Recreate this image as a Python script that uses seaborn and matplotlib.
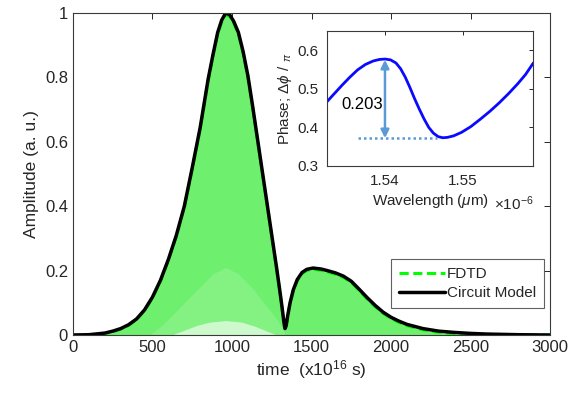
import numpy as np
import pandas as pd
import seaborn as sns
import matplotlib.pyplot as plt
from matplotlib.patches import FancyArrowPatch

# time axis (x10^16 s) and normalised amplitude of the circuit model envelope
time = [0, 100, 200, 250, 300, 350, 400, 450, 500, 550, 600, 650, 700, 750, 800,
        850, 880, 910, 935, 960, 985, 1010, 1040, 1070, 1100, 1130, 1160, 1190,
        1220, 1250, 1280, 1300, 1315, 1325, 1333, 1340, 1350, 1365, 1385, 1410,
        1440, 1470, 1510, 1560, 1600, 1650, 1700, 1750, 1800, 1850, 1900, 1950,
        2000, 2050, 2100, 2200, 2300, 2400, 2500, 2600, 2800, 3000]
circuit_amp = [0.0, 0.001, 0.006, 0.012, 0.02, 0.032, 0.05, 0.078, 0.118, 0.17,
               0.235, 0.31, 0.40, 0.52, 0.645, 0.795, 0.87, 0.94, 0.978, 1.0,
               0.995, 0.975, 0.94, 0.88, 0.805, 0.71, 0.61, 0.51, 0.41, 0.31,
               0.21, 0.14, 0.085, 0.045, 0.02, 0.028, 0.06, 0.10, 0.14, 0.172,
               0.194, 0.204, 0.208, 0.205, 0.2, 0.193, 0.183, 0.167, 0.142, 0.116,
               0.092, 0.071, 0.055, 0.043, 0.033, 0.02, 0.012, 0.008, 0.005, 0.003,
               0.001, 0.0]
# FDTD field: top of the fast oscillation (follows the envelope closely)
fdtd_top = [0.0, 0.0, 0.004, 0.01, 0.018, 0.03, 0.048, 0.076, 0.115, 0.167,
            0.232, 0.306, 0.396, 0.516, 0.64, 0.79, 0.865, 0.935, 0.973, 0.995,
            0.99, 0.97, 0.935, 0.875, 0.8, 0.705, 0.605, 0.505, 0.405, 0.305,
            0.205, 0.135, 0.08, 0.04, 0.016, 0.024, 0.056, 0.096, 0.136, 0.168,
            0.19, 0.2, 0.204, 0.201, 0.196, 0.189, 0.179, 0.163, 0.138, 0.112,
            0.088, 0.067, 0.051, 0.039, 0.029, 0.016, 0.008, 0.004, 0.001, 0.0,
            0.0, 0.0]
# empty gap under the FDTD oscillation and the sparse (dotted) band above it
gap_t = [620, 700, 780, 860, 960, 1060, 1140, 1220, 1280]
gap_hi = [0.0, 0.015, 0.03, 0.04, 0.045, 0.04, 0.028, 0.012, 0.0]
dots_t = [480, 560, 640, 720, 800, 880, 960, 1040, 1120, 1200, 1280, 1330]
dots_hi = [0.0, 0.03, 0.07, 0.11, 0.15, 0.19, 0.21, 0.19, 0.15, 0.1, 0.05, 0.01]

# inset: phase difference vs wavelength (x1e-6 m)
wavelength = [1.5326, 1.5335, 1.5345, 1.5355, 1.5365, 1.5375, 1.5385, 1.5393,
              1.5400, 1.5407, 1.5414, 1.5420, 1.5426, 1.5432, 1.5438, 1.5444,
              1.5450, 1.5456, 1.5462, 1.5468, 1.5474, 1.5480, 1.5488, 1.5498,
              1.5510, 1.5522, 1.5534, 1.5546, 1.5558, 1.5570, 1.5580, 1.5590]
phase = [0.467, 0.487, 0.509, 0.530, 0.549, 0.563, 0.572, 0.576,
         0.577, 0.575, 0.567, 0.552, 0.530, 0.503, 0.474, 0.447,
         0.422, 0.400, 0.385, 0.376, 0.373, 0.374, 0.378, 0.387,
         0.402, 0.421, 0.441, 0.463, 0.487, 0.513, 0.537, 0.567]
phase_max = 0.575
phase_min = 0.372
wl_mark = 1.540

df = pd.DataFrame({'time': time, 'circuit': circuit_amp, 'fdtd': fdtd_top})
df_ph = pd.DataFrame({'wl': wavelength, 'phase': phase})

sns.set_theme(style='white')
plt.rcParams['font.family'] = ['Liberation Sans', 'DejaVu Sans']
plt.rcParams['mathtext.fontset'] = 'custom'
plt.rcParams['mathtext.rm'] = 'Liberation Sans'
plt.rcParams['mathtext.it'] = 'Liberation Sans:italic'
plt.rcParams['xtick.direction'] = 'in'
plt.rcParams['ytick.direction'] = 'in'

dark = '#262626'
fig = plt.figure(figsize=(5.76, 3.96), dpi=100)
ax = fig.add_axes([0.1267, 0.154, 0.8283, 0.813])

# FDTD: dense oscillation rendered as a green fill under the envelope
ax.fill_between(df['time'], 0, df['fdtd'], color='#6ef06e', lw=0)
ax.fill_between(dots_t, 0, dots_hi, color='white', alpha=0.15, lw=0)
ax.fill_between(gap_t, 0, gap_hi, color='white', alpha=0.6, lw=0)
sns.lineplot(data=df, x='time', y='fdtd', ax=ax, color='#00ff00', lw=2.2,
             linestyle=(0, (3, 1.5)), label='FDTD')
sns.lineplot(data=df, x='time', y='circuit', ax=ax, color='black', lw=2.5,
             label='Circuit Model')

ax.set_xlim(0, 3000)
ax.set_ylim(0, 1)
ax.set_xticks(np.arange(0, 3001, 500))
ax.set_yticks([0, 0.2, 0.4, 0.6, 0.8, 1])
ax.set_yticklabels(['0', '0.2', '0.4', '0.6', '0.8', '1'])
ax.tick_params(labelsize=12, colors=dark, length=4, width=0.7, top=True, right=True)
ax.set_xlabel('time  (x10$^{16}$ s)', fontsize=12.5, color=dark, labelpad=2)
ax.set_ylabel('Amplitude (a. u.)', fontsize=12.5, color=dark, labelpad=4)
for s in ax.spines.values():
    s.set_color('#3a3a3a')
    s.set_linewidth(0.8)

leg = ax.legend(loc='lower right', bbox_to_anchor=(0.987, 0.084), fontsize=11,
                frameon=True, fancybox=False, edgecolor='#3a3a3a', handlelength=3.0,
                handletextpad=0.15, borderpad=0.5, labelspacing=0.35, borderaxespad=0)
leg.get_frame().set_linewidth(0.8)

# inset
axi = fig.add_axes([0.568, 0.581, 0.358, 0.341])
sns.lineplot(data=df_ph, x='wl', y='phase', ax=axi, color='#0a0aff', lw=2)
axi.set_xlim(1.5326, 1.5590)
axi.set_ylim(0.3, 0.65)
axi.set_xticks([1.54, 1.55])
axi.set_yticks([0.3, 0.4, 0.5, 0.6])
axi.tick_params(labelsize=11, colors=dark, length=3, width=0.7, top=True, right=True, pad=6)
axi.set_xlabel('Wavelength ($\\mu$m)', fontsize=11, color=dark, labelpad=3)
axi.set_ylabel('Phase; $\\Delta\\phi$ / $_\\pi$', fontsize=11, color=dark, labelpad=3)
axi.text(1.0, -0.28, '$\\times$10$^{-6}$', transform=axi.transAxes, fontsize=11,
         color=dark, ha='right', va='center')
for s in axi.spines.values():
    s.set_color('#3a3a3a')
    s.set_linewidth(0.8)

axi.plot([1.5366, 1.5467], [phase_min, phase_min], color='#5b9bd5', lw=1.8, ls=(0, (1, 1.2)))
arr = FancyArrowPatch((wl_mark, phase_min), (wl_mark, phase_max), arrowstyle='<|-|>',
                      mutation_scale=12, color='#5b9bd5', lw=1.8, shrinkA=0, shrinkB=0)
axi.add_patch(arr)
axi.text(wl_mark - 0.0003, 0.458, '%.3f' % (phase_max - phase_min), fontsize=12,
         color='black', ha='right', va='center')

fig.savefig('out.png', dpi=100)
